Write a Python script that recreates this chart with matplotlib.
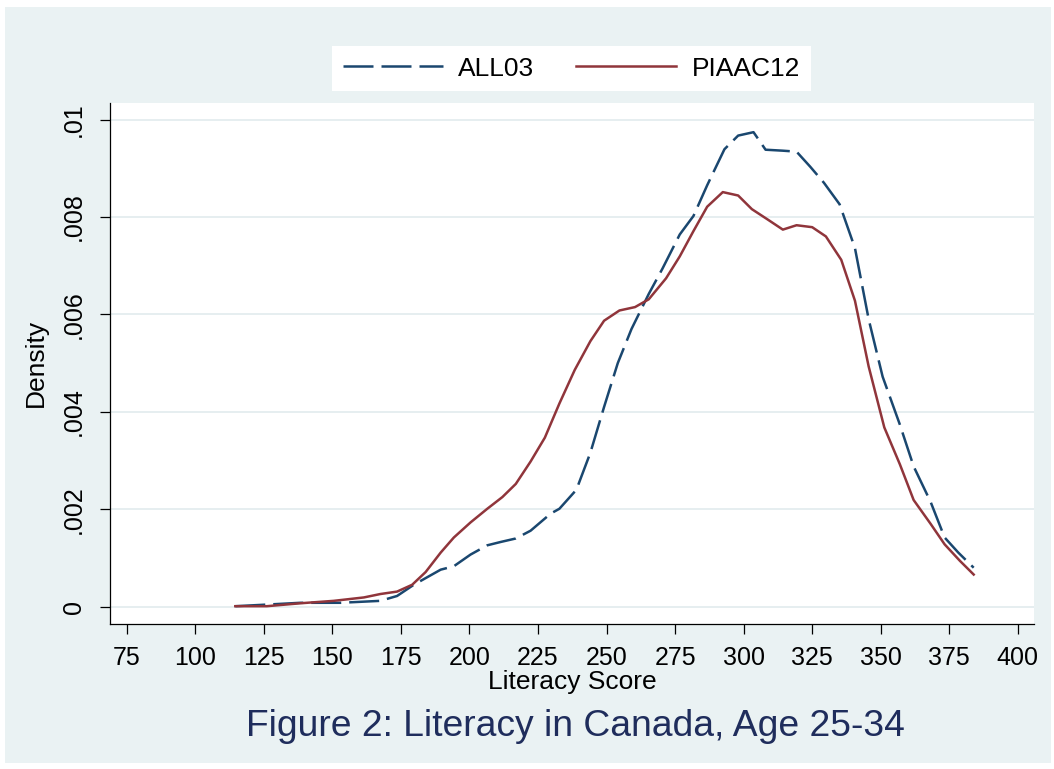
"""Kernel density of literacy scores in Canada, age 25-34 (ALL 2003 vs PIAAC 2012)."""

import matplotlib.pyplot as plt
from matplotlib.patches import Rectangle

plt.rcParams["font.family"] = ["Liberation Sans", "DejaVu Sans"]

# ALL03 density curve
all03_score = [114.6, 125.0, 138.3, 152.9, 167.5, 173.6, 179.7, 189.5, 194.3, 200.4,
               206.5, 211.5, 216.9, 222.3, 229.6, 232.8, 239.0, 244.1, 249.1, 254.1,
               259.1, 265.4, 270.4, 276.7, 281.7, 286.7, 293.0, 298.0, 303.6, 308.0,
               314.3, 319.3, 324.3, 329.3, 335.0, 340.6, 345.6, 350.7, 356.9, 362.0,
               368.2, 373.3, 378.3, 383.9]
all03_dens = [0.00001, 0.00004, 0.00008, 0.00008, 0.00012, 0.00022, 0.00045, 0.00076, 0.00083, 0.00107,
              0.00126, 0.00133, 0.00140, 0.00156, 0.00191, 0.00201, 0.00240, 0.00316, 0.00410, 0.00500,
              0.00570, 0.00642, 0.00694, 0.00764, 0.00802, 0.00865, 0.00939, 0.00967, 0.00974, 0.00938,
              0.00936, 0.00934, 0.00903, 0.00870, 0.00826, 0.00736, 0.00590, 0.00472, 0.00375, 0.00288,
              0.00215, 0.00142, 0.00111, 0.00080]

# PIAAC12 density curve
piaac_score = [114.6, 126.1, 138.3, 150.5, 161.5, 167.5, 173.6, 179.1, 184.0, 189.5,
               194.3, 200.4, 206.5, 212.0, 216.9, 222.3, 227.5, 232.8, 238.4, 244.1,
               249.1, 254.7, 260.4, 265.4, 271.7, 276.7, 281.7, 286.7, 292.4, 298.0,
               303.0, 308.7, 314.3, 319.3, 325.0, 330.0, 335.6, 340.6, 345.6, 351.3,
               357.0, 362.0, 368.2, 373.3, 378.9, 383.9]
piaac_dens = [0.00001, 0.00001, 0.00007, 0.00012, 0.00019, 0.00026, 0.00031, 0.00045, 0.00071, 0.00111,
              0.00142, 0.00173, 0.00201, 0.00225, 0.00252, 0.00298, 0.00347, 0.00417, 0.00486, 0.00545,
              0.00587, 0.00608, 0.00615, 0.00631, 0.00674, 0.00719, 0.00771, 0.00821, 0.00851, 0.00844,
              0.00816, 0.00795, 0.00774, 0.00783, 0.00779, 0.00760, 0.00712, 0.00628, 0.00493, 0.00368,
              0.00292, 0.00219, 0.00170, 0.00128, 0.00094, 0.00066]

x_ticks = list(range(75, 401, 25))
y_ticks = [0, 0.002, 0.004, 0.006, 0.008, 0.01]
y_tick_labels = ["0", ".002", ".004", ".006", ".008", ".01"]

NAVY = "#1A476F"
MAROON = "#90353B"
BG = "#EAF2F3"
GRID = "#E4EDEF"
TITLE_COLOR = "#1F2D5C"

W, H = 1054, 769
fig = plt.figure(figsize=(W / 100, H / 100), dpi=100, facecolor="white")
fig.patches.append(Rectangle((5 / W, 1 - 763 / H), 1046 / W, 756 / H,
                             transform=fig.transFigure, facecolor=BG,
                             edgecolor="none", zorder=-5))

ax = fig.add_axes([110 / W, 1 - 623.5 / H, 924 / W, 520.8 / H])
ax.set_facecolor("white")

(l_all,) = ax.plot(all03_score, all03_dens, color=NAVY, lw=1.8, label="ALL03")
l_all.set_dashes((12, 3.2))
(l_pia,) = ax.plot(piaac_score, piaac_dens, color=MAROON, lw=1.8, label="PIAAC12")

ax.set_xlim(68.9, 405.9)
ax.set_ylim(-0.000345, 0.010345)
ax.set_xticks(x_ticks)
ax.set_yticks(y_ticks)
ax.set_yticklabels(y_tick_labels, rotation=90, va="center")
ax.grid(axis="y", color=GRID, lw=1.3)
ax.set_axisbelow(True)

for side in ("top", "right"):
    ax.spines[side].set_visible(False)
for side in ("left", "bottom"):
    ax.spines[side].set_color("black")
    ax.spines[side].set_linewidth(0.9)
ax.tick_params(axis="both", length=7.2, width=0.9, color="black", labelsize=18)
ax.tick_params(axis="x", pad=9)
ax.tick_params(axis="y", pad=10)

ax.set_xlabel("Literacy Score", fontsize=19)
ax.xaxis.set_label_coords(0.5, -0.090)
ax.set_ylabel("Density", fontsize=19)
ax.yaxis.set_label_coords(-0.067, 0.5)

fig.legend(handles=[l_all, l_pia], loc="center",
           bbox_to_anchor=(571.5 / W, 1 - 68.7 / H), ncol=2, fontsize=19,
           frameon=True, facecolor="white", edgecolor="none", framealpha=1,
           fancybox=False, handlelength=3.79, handletextpad=0.58,
           columnspacing=1.59, borderpad=0.4)

fig.text(575.5 / W, 1 - 736 / H, "Figure 2: Literacy in Canada, Age 25-34",
         ha="center", va="baseline", fontsize=26.8, color=TITLE_COLOR)

fig.savefig("out.png", dpi=100, facecolor="white")
